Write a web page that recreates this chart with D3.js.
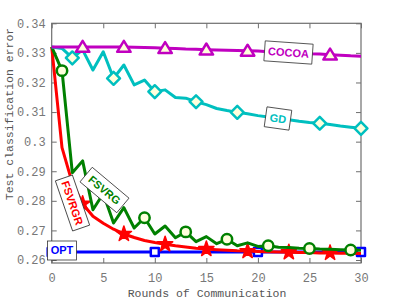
<!DOCTYPE html>
<html><head><meta charset="utf-8">
<script src="https://cdn.jsdelivr.net/npm/d3@7"></script>
<style>body{margin:0;background:#fff}svg{display:block}</style>
</head><body>
<svg id="c" width="399" height="300"></svg>
<script>
const rounds = d3.range(0, 31);
const cocoa = [0.332,0.332,0.332,0.332,0.332,0.332,0.332,0.332,0.3319,0.3318,0.3317,0.3316,0.3315,0.3313,0.3312,0.3311,0.331,0.3309,0.3308,0.3307,0.3306,0.3304,0.3303,0.3301,0.3299,0.3297,0.3296,0.3294,0.3292,0.329,0.3289];
const gd = [0.332,0.3315,0.3283,0.331,0.3242,0.3304,0.3214,0.3259,0.3192,0.3208,0.3169,0.3175,0.3149,0.3147,0.3135,0.3125,0.3112,0.3105,0.3099,0.3094,0.3088,0.3083,0.3079,0.3074,0.3069,0.3065,0.3062,0.3058,0.3053,0.3049,0.3045];
const fsvrg = [0.332,0.324,0.2895,0.2935,0.277,0.2825,0.2725,0.2777,0.2708,0.2743,0.2688,0.2715,0.2675,0.2695,0.2662,0.2679,0.2655,0.267,0.2648,0.2658,0.2646,0.2648,0.2643,0.2642,0.264,0.2639,0.2637,0.2636,0.2635,0.2634,0.2633];
const fsvrgr = [0.332,0.298,0.286,0.279,0.2748,0.2724,0.2704,0.2688,0.2676,0.2666,0.2659,0.2653,0.2648,0.2644,0.264,0.2637,0.2635,0.2633,0.2631,0.263,0.2629,0.2628,0.2627,0.2626,0.2625,0.2625,0.2624,0.2624,0.2623,0.2623,0.2622];
const opt = rounds.map(() => 0.2627);
const cocoaMarks = [3,7,11,15,19,23,27];
const gdMarks = [2,6,10,14,18,22,26,30];
const fsvrgMarks = [1,5,9,13,17,21,25,29];
const fsvrgrMarks = [3,7,11,15,19,23,27];
const optMarks = [0,10,20,30];
const xTicks = [0,5,10,15,20,25,30];
const yTicks = [0.26,0.27,0.28,0.29,0.30,0.31,0.32,0.33,0.34];
const yTickLabels = ["0.26","0.27","0.28","0.29","0.3","0.31","0.32","0.33","0.34"];

const svg = d3.select("#c");
const L = 51.7, R = 361, T = 23.3, B = 263;
const x = d3.scaleLinear().domain([0,30]).range([L,R]);
const y = d3.scaleLinear().domain([0.26,0.34]).range([260,23.3]);
const axisCol = "#6e6e6e";
const fill = "#ffffdc";

const g = svg.append("g");
const mono = "'Liberation Mono','DejaVu Sans Mono',monospace";
const xb = g.append("g").attr("transform",`translate(0,${B})`).call(d3.axisBottom(x).tickValues(xTicks).tickSizeInner(-5).tickSizeOuter(0).tickPadding(10));
const xt = g.append("g").attr("transform",`translate(0,${T})`).call(d3.axisTop(x).tickValues(xTicks).tickSizeInner(-5).tickSizeOuter(0).tickFormat(""));
const yl = g.append("g").attr("transform",`translate(${L},0)`).call(d3.axisLeft(y).tickValues(yTicks).tickFormat((d,i)=>yTickLabels[i]).tickSizeInner(-5).tickSizeOuter(0).tickPadding(6));
const yr = g.append("g").attr("transform",`translate(${R},0)`).call(d3.axisRight(y).tickValues(yTicks).tickSizeInner(-5).tickSizeOuter(0).tickFormat(""));
[xb,xt,yl,yr].forEach(a=>{
  a.select(".domain").remove();
  a.selectAll("line").attr("stroke",axisCol);
  a.selectAll("text").attr("fill","#777").style("font-family",mono).style("font-size","12px");
});
g.append("rect").attr("x",L).attr("y",T).attr("width",R-L).attr("height",B-T).attr("fill","none").attr("stroke",axisCol).attr("stroke-width",1.2);

svg.append("text").attr("x",207).attr("y",297).attr("text-anchor","middle").attr("fill","#555")
  .style("font-family",mono).style("font-size","11.5px").text("Rounds of Communication");
svg.append("text").attr("transform","translate(13,114) rotate(-90)").attr("text-anchor","middle").attr("fill","#555")
  .style("font-family",mono).style("font-size","11.5px").text("Test classification error");

const line = d3.line().x((d,i)=>x(rounds[i])).y(d=>y(d));
function series(vals, color, marks, shape, size, mfill, sw){
  svg.append("path").attr("d",line(vals)).attr("fill","none").attr("stroke",color).attr("stroke-width",3).attr("stroke-linejoin","round");
  const sym = d3.symbol().type(shape).size(size);
  svg.selectAll(null).data(marks).enter().append("path")
    .attr("d",sym)
    .attr("transform",d=>`translate(${x(d)},${y(vals[d])})`)
    .attr("fill",mfill).attr("stroke",color).attr("stroke-width",sw).attr("stroke-linejoin","round");
}
const diamond = {draw(ctx,size){const r=Math.sqrt(size)/2*1.05;ctx.moveTo(0,-r);ctx.lineTo(r,0);ctx.lineTo(0,r);ctx.lineTo(-r,0);ctx.closePath();}};
const tri = {draw(ctx,size){const r=Math.sqrt(size)/2;ctx.moveTo(0,-r);ctx.lineTo(r*1.1,r*0.8);ctx.lineTo(-r*1.1,r*0.8);ctx.closePath();}};

series(opt,"#0000ff",optMarks,d3.symbolSquare,64,"#ffffff",2.5);
series(fsvrgr,"#ff0000",fsvrgrMarks,d3.symbolStar,72,"#ff0000",1.5);
series(fsvrg,"#008000",fsvrgMarks,d3.symbolCircle,85,fill,2.5);
series(gd,"#00bfbf",gdMarks,diamond,150,fill,2.5);
series(cocoa,"#c000c0",cocoaMarks,tri,150,fill,2.5);

function label(cx,cy,ang,w,h,txt,color){
  const lg = svg.append("g").attr("transform",`translate(${cx},${cy}) rotate(${ang})`);
  lg.append("rect").attr("x",-w/2).attr("y",-h/2).attr("width",w).attr("height",h).attr("fill","#fff").attr("stroke","#333").attr("stroke-width",0.8);
  lg.append("text").attr("text-anchor","middle").attr("dy","0.36em").attr("fill",color)
    .style("font-family","'Liberation Sans',Arial,sans-serif").style("font-weight","bold").style("font-size","11px").text(txt);
}
label(288.5,52.5,4,48,20,"COCOA","#c000c0");
label(278,118.5,8,25,20,"GD","#00bfbf");
label(104.5,190,40,48,19,"FSVRG","#008000");
label(72.5,203,71,53,18,"FSVRGR","#ff0000");
label(62,250.5,0,29,19,"OPT","#0000ff");
</script>
</body></html>
